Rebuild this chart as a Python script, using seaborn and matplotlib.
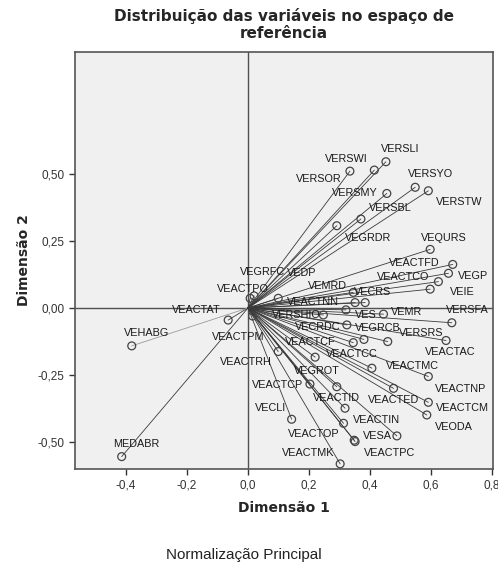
import pandas as pd
import seaborn as sns
import matplotlib.pyplot as plt
from matplotlib.ticker import FuncFormatter

# variable loadings (Dimensão 1, Dimensão 2)
labels = ["VERSLI", "VERSWI", "VERSOR", "VERSYO", "VERSTW", "VERSMY", "VERSBL", "VEGRDR",
          "VEQURS", "VEACTFD", "VEGP", "VEACTCO", "VEIE", "VECRS", "VEACTNN", "VEMRD",
          "VEACTPO", "VEGRFC", "VEDP", "VEACTAT", "VEHABG", "MEDABR", "VERSHIO", "VES",
          "VEMR", "VERSFA", "VECRDC", "VEGRCB", "VERSRS", "VEACTAC", "VEACTCF", "VEACTPM",
          "VEACTRH", "VEACTCC", "VEGROT", "VEACTMC", "VEACTNP", "VEACTCP", "VEACTED",
          "VEACTCM", "VEODA", "VEACTID", "VECLI", "VEACTIN", "VESA", "VEACTOP", "VEACTPC",
          "VEACTMK"]
dim1 = [0.452, 0.414, 0.334, 0.548, 0.591, 0.455, 0.370, 0.291,
        0.597, 0.671, 0.657, 0.624, 0.597, 0.384, 0.351, 0.345,
        0.007, 0.020, 0.099, -0.065, -0.381, -0.414, 0.247, 0.321,
        0.444, 0.668, 0.324, 0.380, 0.458, 0.649, 0.345, 0.015,
        0.099, 0.220, 0.291, 0.406, 0.591, 0.203, 0.477,
        0.591, 0.586, 0.318, 0.143, 0.313, 0.488, 0.348, 0.351,
        0.302]
dim2 = [0.544, 0.513, 0.509, 0.449, 0.436, 0.426, 0.331, 0.306,
        0.218, 0.162, 0.129, 0.098, 0.070, 0.020, 0.020, 0.058,
        0.036, 0.045, 0.036, -0.045, -0.141, -0.553, -0.026, -0.007,
        -0.023, -0.055, -0.063, -0.117, -0.125, -0.121, -0.129, -0.030,
        -0.162, -0.183, -0.293, -0.224, -0.255, -0.283, -0.299,
        -0.351, -0.398, -0.373, -0.414, -0.429, -0.476, -0.492, -0.497,
        -0.580]

# label placement (pixel offsets from the point)
offsets = {"VERSLI": (14, 13), "VERSWI": (-28, 11), "VERSOR": (-31, -8), "VERSYO": (15, 13),
           "VERSTW": (31, -11), "VERSMY": (-32, 0), "VERSBL": (29, 11), "VEGRDR": (31, -12),
           "VEQURS": (14, 11), "VEACTFD": (-38, 1), "VEGP": (25, -3), "VEACTCO": (-35, 5),
           "VEIE": (32, -3), "VECRS": (7, 11), "VEACTNN": (-42, 1), "VEMRD": (-26, 6),
           "VEACTPO": (-7, 9), "VEGRFC": (8, 24), "VEDP": (23, 25), "VEACTAT": (-32, 10),
           "VEHABG": (15, 13), "MEDABR": (15, 13), "VERSHIO": (-27, 0), "VES": (20, -5),
           "VEMR": (23, 2), "VERSFA": (15, 13), "VECRDC": (-29, -2), "VEGRCB": (14, 11),
           "VERSRS": (33, 9), "VEACTAC": (4, -12), "VEACTCF": (-43, 1), "VEACTPM": (-14, -21),
           "VEACTRH": (-32, -10), "VEACTCC": (37, 3), "VEGROT": (-20, 16), "VEACTMC": (41, 2),
           "VEACTNP": (32, -12), "VEACTCP": (-32, -1), "VEACTED": (0, -12), "VEACTCM": (34, -6),
           "VEODA": (27, -12), "VEACTID": (-9, 10), "VECLI": (-21, 11), "VEACTIN": (33, 3),
           "VESA": (-19, 0), "VEACTOP": (-40, 6), "VEACTPC": (34, -11), "VEACTMK": (-32, 11)}

df = pd.DataFrame({"label": labels, "d1": dim1, "d2": dim2})

sns.set_style("ticks")
plt.rcParams["font.family"] = ["Liberation Sans", "DejaVu Sans"]

fig = plt.figure(figsize=(4.98, 5.66), dpi=100)
ax = fig.add_axes([0.1506, 0.1714, 0.8394, 0.7366])
ax.set_facecolor("#f0f0f0")

ax.axhline(0, color="#505050", lw=1.0, zorder=1)
ax.axvline(0, color="#505050", lw=1.0, zorder=1)

for _, r in df.iterrows():
    c = "#9a9a9a" if r["label"] == "VEHABG" else "#3a3a3a"
    ax.plot([0, r["d1"]], [0, r["d2"]], color=c, lw=0.6, zorder=2)

sns.scatterplot(data=df, x="d1", y="d2", ax=ax, marker="o", s=32,
                facecolor="none", edgecolor="#444444", linewidth=0.9, zorder=3)

for _, r in df.iterrows():
    dx, dy = offsets[r["label"]]
    ax.annotate(r["label"], (r["d1"], r["d2"]), xytext=(dx, dy), textcoords="offset pixels",
                ha="center", va="center", fontsize=7.8, color="#1a1a1a", zorder=4)

ax.set_xlim(-0.567, 0.803)
ax.set_ylim(-0.599, 0.952)
ax.set_xticks([-0.4, -0.2, 0.0, 0.2, 0.4, 0.6, 0.8])
ax.set_yticks([-0.5, -0.25, 0.0, 0.25, 0.5])
ax.xaxis.set_major_formatter(FuncFormatter(lambda v, p: f"{v:.1f}".replace(".", ",")))
ax.yaxis.set_major_formatter(FuncFormatter(lambda v, p: f"{v:.2f}".replace(".", ",")))
ax.tick_params(axis="both", labelsize=8.5, colors="#333333", length=4, width=1.0)

for s in ax.spines.values():
    s.set_color("#555555")
    s.set_linewidth(1.2)

ax.set_xlabel("Dimensão 1", fontsize=10, fontweight="bold", family="DejaVu Sans", labelpad=7)
ax.set_ylabel("Dimensão 2", fontsize=10, fontweight="bold", family="DejaVu Sans", labelpad=5)
ax.set_title("Distribuição das variáveis no espaço de\nreferência", fontsize=11,
             fontweight="bold", family="DejaVu Sans", linespacing=1.15, pad=10)

fig.text(0.49, 0.019, "Normalização Principal", ha="center", va="center", fontsize=11,
         color="#222222")

fig.savefig("out.png", dpi=100)
plt.close(fig)
